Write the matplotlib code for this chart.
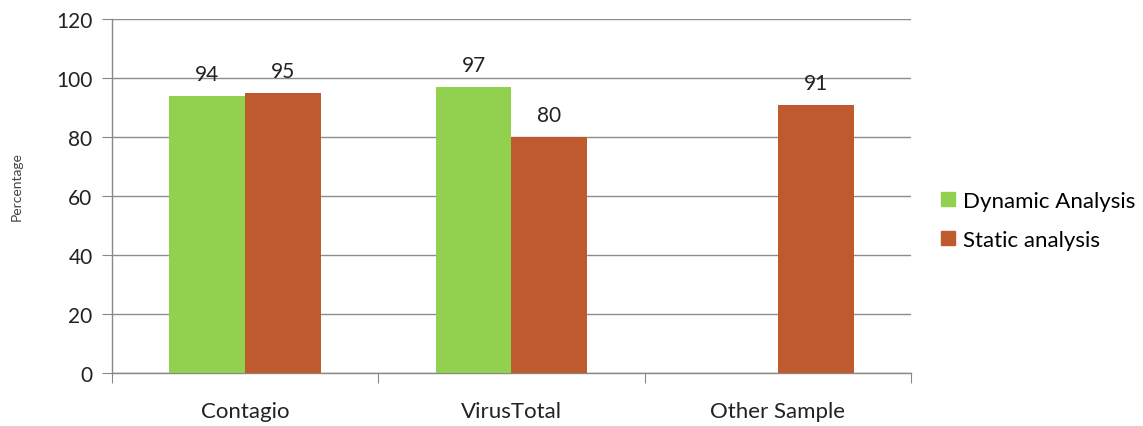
import numpy as np
import matplotlib.pyplot as plt
from matplotlib.patches import Patch

categories = ['Contagio', 'VirusTotal', 'Other Sample']
dynamic = [94, 97, None]
static = [95, 80, 91]
series_names = ['Dynamic Analysis', 'Static analysis']
colors = ['#92D050', '#BE5A2D']

plt.rcParams['font.family'] = ['Lato', 'DejaVu Sans']

fig = plt.figure(figsize=(11.43, 4.27), dpi=100)
ax = fig.add_axes([0.098, 0.124, 0.699, 0.829])

x = np.arange(len(categories))
w = 0.285

for i, vals in enumerate([dynamic, static]):
    off = (i - 0.5) * w
    for xi, v in zip(x, vals):
        if v is None:
            continue
        ax.bar(xi + off, v, width=w, color=colors[i], zorder=3)
        ax.text(xi + off, v + 4, str(v), ha='center', va='bottom', fontsize=15, color='#222222')

ax.set_xlim(-0.5, len(categories) - 0.5)
ax.set_ylim(0, 120)
ax.set_yticks(range(0, 121, 20))
ax.tick_params(axis='y', labelsize=15, length=7, color='#888888', pad=7, labelcolor='#222222')
ax.yaxis.grid(True, color='#8c8c8c', linewidth=1, zorder=0)

# category labels centred, tick marks at boundaries
ax.set_xticks(np.arange(-0.5, len(categories)), minor=False)
ax.set_xticklabels([])
ax.set_xticks(x, minor=True)
ax.set_xticklabels(categories, minor=True, fontsize=16, color='#222222')
ax.tick_params(axis='x', which='major', length=7, color='#888888')
ax.tick_params(axis='x', which='minor', length=0, pad=20)

for s in ['top', 'right']:
    ax.spines[s].set_visible(False)
for s in ['left', 'bottom']:
    ax.spines[s].set_color('#888888')
    ax.spines[s].set_linewidth(1)

fig.text(0.015, 0.564, 'Percentage', rotation=90, fontsize=10, color='#444444',
         ha='center', va='center')

handles = [Patch(color=c, label=n) for c, n in zip(colors, series_names)]
fig.legend(handles=handles, loc='center left', bbox_to_anchor=(0.806, 0.482),
           frameon=False, fontsize=16, handlelength=0.6, handleheight=0.6,
           handletextpad=0.4, labelspacing=0.85)

fig.savefig('out.png', dpi=100)
